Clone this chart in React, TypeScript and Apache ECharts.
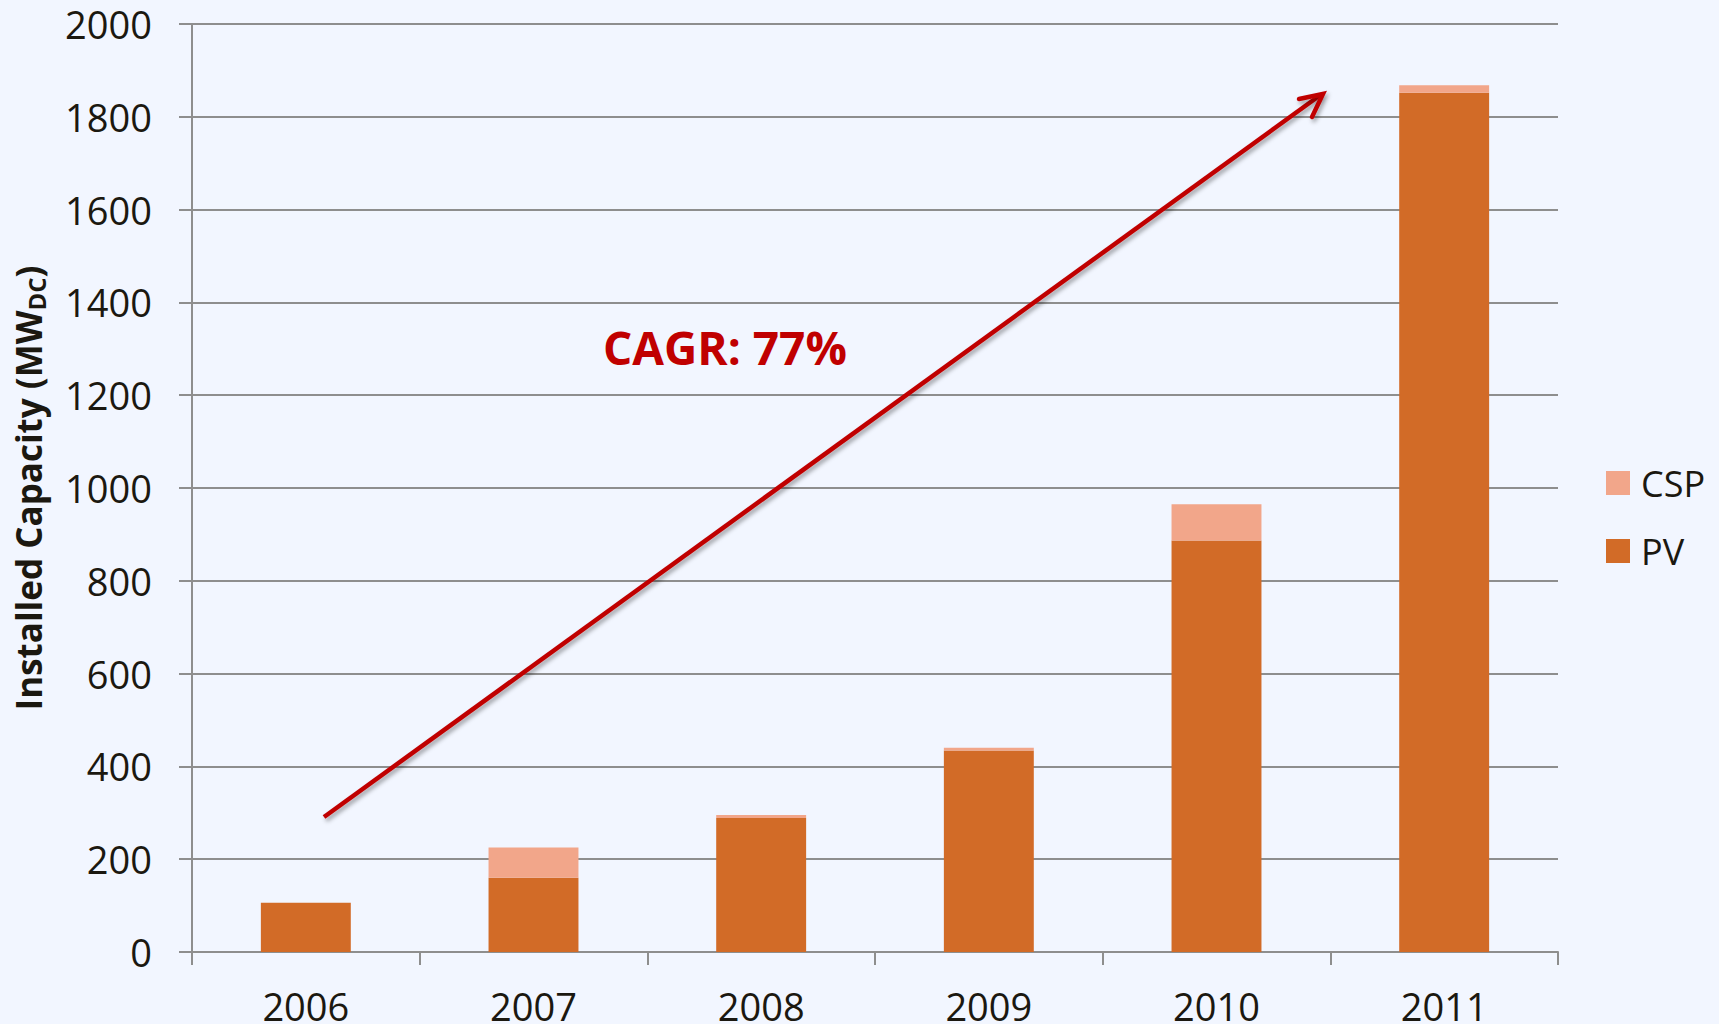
import React, { useEffect, useRef } from "react";
import * as echarts from "echarts";

const years = ["2006", "2007", "2008", "2009", "2010", "2011"];
const pvValues = [106, 160, 289, 434, 887, 1852];
const cspValues = [0, 65, 6, 6, 78, 16];
const yTicks = { min: 0, max: 2000, interval: 200 };

const FONT = "'Open Sans', 'Noto Sans', sans-serif";
const TEXT = "#1b1810";
const GRID = "#8e8e8e";
const PV_COLOR = "#d26b27";
const CSP_COLOR = "#f2a68a";
const ARROW = "#c00000";

export default function App() {
  const ref = useRef<HTMLDivElement>(null);
  useEffect(() => {
    if (!ref.current) return;
    const chart = echarts.init(ref.current, null, { renderer: "svg" });
    const shadow = {
      shadowBlur: 4,
      shadowColor: "rgba(0,0,0,0.35)",
      shadowOffsetX: 2,
      shadowOffsetY: 3,
    };
    chart.setOption({
      animation: false,
      backgroundColor: "#f2f6ff",
      textStyle: { fontFamily: FONT, color: TEXT },
      grid: { left: 192, right: 161, top: 24, bottom: 72, outerBoundsMode: "none", containLabel: false },
      legend: {
        orient: "vertical",
        left: 1601,
        top: 460,
        itemWidth: 24,
        itemHeight: 24,
        itemGap: 32,
        data: ["CSP", "PV"],
        textStyle: { fontSize: 36, color: TEXT, fontFamily: FONT, padding: [0, 0, 0, 6] },
        icon: "rect",
      },
      xAxis: {
        type: "category",
        data: years,
        axisLine: { lineStyle: { color: GRID, width: 2 } },
        axisTick: { show: true, length: 13, lineStyle: { color: GRID, width: 2 } },
        axisLabel: { fontSize: 38, color: TEXT, margin: 35, fontFamily: FONT },
      },
      yAxis: {
        type: "value",
        min: yTicks.min,
        max: yTicks.max,
        interval: yTicks.interval,
        name: "{a|Installed Capacity (MW}{b|DC}{a|)}",
        nameLocation: "middle",
        nameGap: 144,
        nameTextStyle: {
          rich: {
            a: { fontSize: 35, fontWeight: "bold", color: TEXT, fontFamily: FONT },
            b: { fontSize: 24, fontWeight: "bold", color: TEXT, fontFamily: FONT, padding: [16, 0, 0, 0] },
          },
        },
        axisLine: { show: true, lineStyle: { color: GRID, width: 2 } },
        axisTick: { show: true, length: 13, lineStyle: { color: GRID, width: 2 } },
        axisLabel: {
          fontSize: 38,
          color: TEXT,
          margin: 40,
          fontFamily: FONT,
          formatter: (v: number) => String(v),
        },
        splitLine: { lineStyle: { color: GRID, width: 2 } },
      },
      series: [
        {
          name: "PV",
          type: "bar",
          stack: "total",
          data: pvValues,
          barWidth: "39.5%",
          itemStyle: { color: PV_COLOR },
        },
        {
          name: "CSP",
          type: "bar",
          stack: "total",
          data: cspValues,
          barWidth: "39.5%",
          itemStyle: { color: CSP_COLOR },
        },
      ],
      graphic: [
        {
          type: "line",
          shape: { x1: 324, y1: 817, x2: 1319, y2: 96 },
          style: { stroke: ARROW, lineWidth: 4.5, ...shadow },
          z: 100,
        },
        {
          type: "polyline",
          shape: { points: [[1299, 99], [1323, 94], [1312, 117]] },
          style: { stroke: ARROW, lineWidth: 4.5, fill: null, lineJoin: "miter", lineCap: "round", ...shadow },
          z: 100,
        },
        {
          type: "text",
          x: 603,
          y: 347,
          style: {
            text: "CAGR: 77%",
            fontSize: 46,
            fontWeight: "bold",
            fontFamily: FONT,
            fill: ARROW,
            textVerticalAlign: "middle",
            verticalAlign: "middle",
          },
          z: 100,
        },
      ],
    });
    return () => chart.dispose();
  }, []);
  return (
    <div
      ref={ref}
      style={{ position: "fixed", left: 0, top: 0, width: 1719, height: 1024 }}
    />
  );
}
